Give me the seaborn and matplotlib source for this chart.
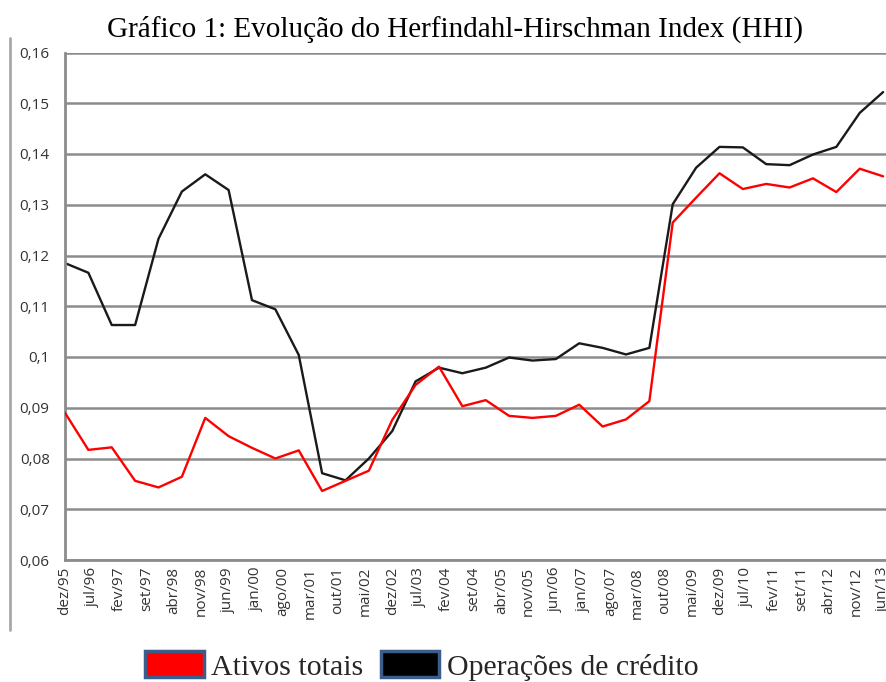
import numpy as np
import pandas as pd
import matplotlib
matplotlib.use("Agg")
import matplotlib.pyplot as plt
from matplotlib.patches import Patch
from matplotlib.lines import Line2D
import seaborn as sns

# semiannual observations, dez/95 .. jun/13 (months since dez/95)
months = list(range(0, 211, 6))
ativos_totais = [0.0890, 0.0817, 0.0822, 0.0756, 0.0743, 0.0764, 0.0880, 0.0844,
                 0.0821, 0.0800, 0.0816, 0.0736, 0.0756, 0.0776, 0.0876, 0.0945,
                 0.0981, 0.0903, 0.0915, 0.0884, 0.0880, 0.0884, 0.0906, 0.0863,
                 0.0877, 0.0913, 0.1265, 0.1314, 0.1362, 0.1331, 0.1341, 0.1334,
                 0.1352, 0.1325, 0.1371, 0.1356]
operacoes_credito = [0.1185, 0.1166, 0.1063, 0.1063, 0.1233, 0.1326, 0.1360, 0.1329,
                     0.1112, 0.1094, 0.1004, 0.0771, 0.0757, 0.0800, 0.0854, 0.0952,
                     0.0979, 0.0968, 0.0979, 0.0999, 0.0993, 0.0996, 0.1027, 0.1018,
                     0.1005, 0.1018, 0.1301, 0.1373, 0.1414, 0.1413, 0.1380, 0.1378,
                     0.1399, 0.1414, 0.1481, 0.1522]
tick_months = list(range(0, 211, 7))
tick_labels = ["dez/95", "jul/96", "fev/97", "set/97", "abr/98", "nov/98", "jun/99",
               "jan/00", "ago/00", "mar/01", "out/01", "mai/02", "dez/02", "jul/03",
               "fev/04", "set/04", "abr/05", "nov/05", "jun/06", "jan/07", "ago/07",
               "mar/08", "out/08", "mai/09", "dez/09", "jul/10", "fev/11", "set/11",
               "abr/12", "nov/12", "jun/13"]
y_ticks = [0.06, 0.07, 0.08, 0.09, 0.10, 0.11, 0.12, 0.13, 0.14, 0.15, 0.16]
y_labels = ["0,06", "0,07", "0,08", "0,09", "0,1", "0,11", "0,12", "0,13", "0,14", "0,15", "0,16"]
series_names = ["Ativos totais", "Operações de crédito"]
title = "Gráfico 1: Evolução do Herfindahl-Hirschman Index (HHI)"

sns.set_theme(style="white")
W, H = 887, 682
fig = plt.figure(figsize=(W / 100, H / 100), dpi=100)
ax = fig.add_axes([65 / W, (H - 560) / H, (W - 65) / W, (560 - 52.5) / H])

df = pd.DataFrame({"m": months, "a": ativos_totais, "o": operacoes_credito})
grid_c = "#8c8c8c"
for yv in y_ticks:
    ax.axhline(yv, color=grid_c, lw=1.8, zorder=0)
sns.lineplot(data=df, x="m", y="a", ax=ax, color="#ff0000", lw=1.7, zorder=3)
sns.lineplot(data=df, x="m", y="o", ax=ax, color="#1a1a1a", lw=1.7, zorder=2)

ax.set_xlim(0, 211)
ax.set_ylim(0.06, 0.16)
ax.set_xlabel("")
ax.set_ylabel("")
ax.set_xticks(tick_months)
ax.set_xticklabels(tick_labels, rotation=90, fontsize=11, color="#333333",
                   family="Open Sans")
ax.set_yticks(y_ticks)
ax.set_yticklabels(y_labels, fontsize=11, color="#333333", family="Open Sans")
ax.tick_params(axis="x", length=0, pad=5)
ax.tick_params(axis="y", length=0, pad=11)
for s in ["top", "right"]:
    ax.spines[s].set_visible(False)
for s in ["left", "bottom"]:
    ax.spines[s].set_color(grid_c)
    ax.spines[s].set_linewidth(2)

fig.add_artist(Line2D([10.5 / W, 10.5 / W], [1 - 38 / H, 1 - 630 / H],
                      color="#a8a8a8", lw=2))

fig.text(455 / W, 1 - 29 / H, title, ha="center", va="center",
         family="Liberation Serif", fontsize=21, color="black")

handles = [Patch(facecolor="#ff0000", edgecolor="#3b5d8c", lw=2.5),
           Patch(facecolor="#000000", edgecolor="#3b5d8c", lw=2.5)]
fig.legend(handles, series_names, loc="center", bbox_to_anchor=(422 / W, 1 - 666 / H),
           ncol=2, frameon=False, prop={"family": "Liberation Serif", "size": 21.5},
           handlelength=1.95, handleheight=0.95, handletextpad=0.25, columnspacing=0.6,
           borderpad=0)

fig.savefig("out.png", dpi=100)
